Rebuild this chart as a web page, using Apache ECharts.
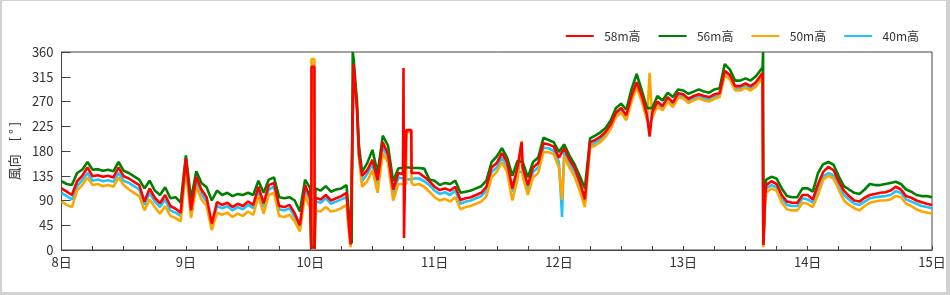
<!DOCTYPE html>
<html><head><meta charset="utf-8">
<script src="https://cdn.jsdelivr.net/npm/echarts@6/dist/echarts.min.js"></script>
<style>
html,body{margin:0;padding:0;background:#fff}
#wrap{position:relative;width:950px;height:295px}
#chart{width:950px;height:295px}
#frame{position:absolute;left:0;top:0;width:950px;height:295px;box-sizing:border-box;border-style:solid;border-color:#d2d2d2;border-width:1px 4px 3px 2px;pointer-events:none}
</style></head><body>
<div id="wrap"><div id="chart"></div><div id="frame"></div></div>
<script>
// x categories: day labels (one per 24 h, starting 8日 00:00)
const dayLabels = ['8日','9日','10日','11日','12日','13日','14日','15日'];
const seriesNames = ['58m高','56m高','50m高','40m高'];
// hourly values (index = hours since 8日 00:00), degrees
const dir58 = [
112,106,100,125,135,150,134,136,133,135,132,150,134,130,124,118,88,112,95,85,100,80,75,68,
167,72,133,110,96,48,87,82,86,78,84,80,88,82,115,85,118,122,80,78,82,67,45,118,
95,95,92,100,90,94,98,104,8,258,135,145,164,127,196,175,110,140,331,218,140,140,133,125,
115,109,112,108,115,91,94,96,100,104,115,150,158,176,160,112,150,150,118,150,158,194,192,188,
168,185,165,150,125,92,196,200,206,215,228,250,258,245,280,305,280,245,250,270,262,278,268,285,
283,275,280,283,280,278,283,285,326,318,298,298,303,298,305,318,118,125,120,100,88,86,86,100,
100,92,120,142,151,145,125,108,98,90,88,95,100,102,104,105,108,115,110,98,95,90,87,84,82];
const dir56 = [
125,120,118,140,146,160,146,147,144,146,143,160,144,140,134,128,112,126,108,100,114,94,96,86,
172,92,143,122,114,90,108,100,104,98,102,100,104,100,126,104,128,132,96,94,96,90,70,128,
112,112,108,116,106,110,112,118,12,270,142,158,182,140,208,190,125,148,150,150,149,149,148,128,
126,118,122,120,126,104,106,108,112,116,126,160,170,185,168,135,162,160,132,160,168,204,200,196,
178,192,172,156,135,112,203,208,214,222,236,258,266,255,292,320,290,258,258,280,272,286,278,292,
290,284,288,292,288,286,292,294,338,328,308,308,312,308,316,328,128,133,130,112,98,96,96,112,
112,106,140,156,160,155,134,116,110,104,102,110,120,118,118,120,122,124,120,110,106,100,98,98,96];
const dir50 = [
88,82,78,108,118,132,118,120,116,118,115,132,118,110,104,98,72,92,78,66,80,62,58,52,
150,58,116,92,80,36,68,64,68,60,66,62,70,64,98,66,100,104,62,60,64,52,34,100,
75,72,70,78,70,72,76,82,3,276,115,125,145,104,176,160,90,120,120,214,118,120,115,106,
96,90,93,88,96,74,78,80,84,88,98,132,142,160,142,90,128,134,100,132,140,178,178,174,
150,170,150,134,108,78,186,190,196,206,220,242,250,236,270,296,270,236,240,262,254,270,260,277,
276,267,272,276,272,270,275,278,318,310,290,290,295,290,297,310,104,112,108,86,74,72,72,86,
84,78,100,128,135,130,110,90,82,76,72,80,86,88,90,90,92,98,96,84,80,74,70,68,66];
const dir40 = [
104,98,92,116,127,140,126,128,125,127,124,140,126,122,116,110,82,104,88,78,92,72,68,62,
158,66,125,102,88,42,80,76,80,72,78,74,82,76,108,78,110,115,74,72,76,60,40,110,
90,88,86,94,84,88,92,96,5,262,125,138,156,120,188,168,102,132,130,128,130,130,125,118,
108,102,105,100,108,84,88,90,94,98,108,142,150,168,152,106,142,142,110,142,150,186,185,180,
160,178,158,143,118,86,190,195,201,210,222,245,253,240,275,300,274,240,245,266,258,274,264,281,
279,271,276,279,276,274,279,281,321,314,293,294,299,294,301,314,112,118,114,94,82,80,80,94,
92,86,112,134,140,135,118,100,92,84,82,88,94,96,97,98,100,107,104,92,88,84,80,78,76];
// short-lived extra readings between the hourly values: [hour, degrees]
const extra58 = [[48.2,2],[48.25,333],[48.8,333],[48.85,2],[55.5,40],[55.8,10],[56.35,338],[57.4,175],
[65.9,138],[66.1,22],[66.3,140],[66.5,140],[66.55,218],[67.5,218],[67.55,140],[88.8,196],[113.5,206],
[135.3,322],[135.45,9],[135.8,100]];
const extra56 = [[48.2,5],[48.8,5],[55.5,60],[55.8,18],[56.2,360],[56.4,345],[57.4,190],
[135.3,332],[135.4,360],[135.45,12],[135.8,112]];
const extra50 = [[48.2,2],[48.25,347],[48.8,347],[48.85,2],[55.5,30],[55.8,5],[56.35,320],[57.4,170],
[66.5,120],[66.55,214],[67.5,214],[67.55,122],[88.8,198],[96.6,91],[113.5,322],
[135.3,316],[135.45,5],[135.8,85]];
const extra40 = [[48.2,5],[48.8,5],[55.5,58],[55.8,8],[56.35,330],[57.4,172],[96.6,60],[113.5,224],
[135.3,318],[135.45,7],[135.8,92]];
const colors = ['#ff0000','#008000','#ffa500','#22c4f5'];

function merge(base, extra){
  return base.map((v,i)=>[i,v]).concat(extra).sort((a,b)=>a[0]-b[0]);
}
const datasets = [merge(dir58,extra58), merge(dir56,extra56), merge(dir50,extra50), merge(dir40,extra40)];

const chart = echarts.init(document.getElementById('chart'), null, {renderer:'canvas'});
const font = '"Noto Sans CJK JP", "Noto Sans", sans-serif';
const order = [3,2,1,0]; // draw 40m first, 58m on top
const series = order.map(i => ({
  name: seriesNames[i], type:'line', data: datasets[i], showSymbol:false, symbol:'none',
  lineStyle:{color:colors[i], width:2.6}, itemStyle:{color:colors[i]}, animation:false,
  emphasis:{disabled:true}
}));
chart.setOption({
  animation:false,
  textStyle:{fontFamily:font},
  legend:{data:seriesNames, right:26, top:25, icon:'rect', itemWidth:28, itemHeight:2, itemGap:18,
    formatter: n => '  ' + n,
    textStyle:{fontSize:12, color:'#333', fontFamily:font}},
  grid:{left:61, right:18, top:52, bottom:45, show:true, borderColor:'#444', borderWidth:1},
  xAxis:{type:'value', min:0, max:168, interval:6,
    axisLine:{lineStyle:{color:'#444'}},
    axisTick:{inside:true, length:4, lineStyle:{color:'#444'}},
    splitLine:{show:false},
    axisLabel:{margin:6, fontSize:13, color:'#333', fontFamily:font,
      formatter: v => (v % 24 === 0) ? dayLabels[v/24] : ''}},
  yAxis:{type:'value', min:0, max:360, interval:45, name:'風向　[ ° ]', nameLocation:'middle', nameRotate:90, nameGap:40,
    nameTextStyle:{fontSize:13, color:'#333', fontFamily:font},
    axisLine:{show:true, lineStyle:{color:'#444'}},
    axisTick:{show:true, inside:true, length:9, lineStyle:{color:'#444'}},
    splitLine:{show:false},
    axisLabel:{margin:8, fontSize:13, color:'#333', fontFamily:font}},
  series: series
});
</script>
</body></html>
